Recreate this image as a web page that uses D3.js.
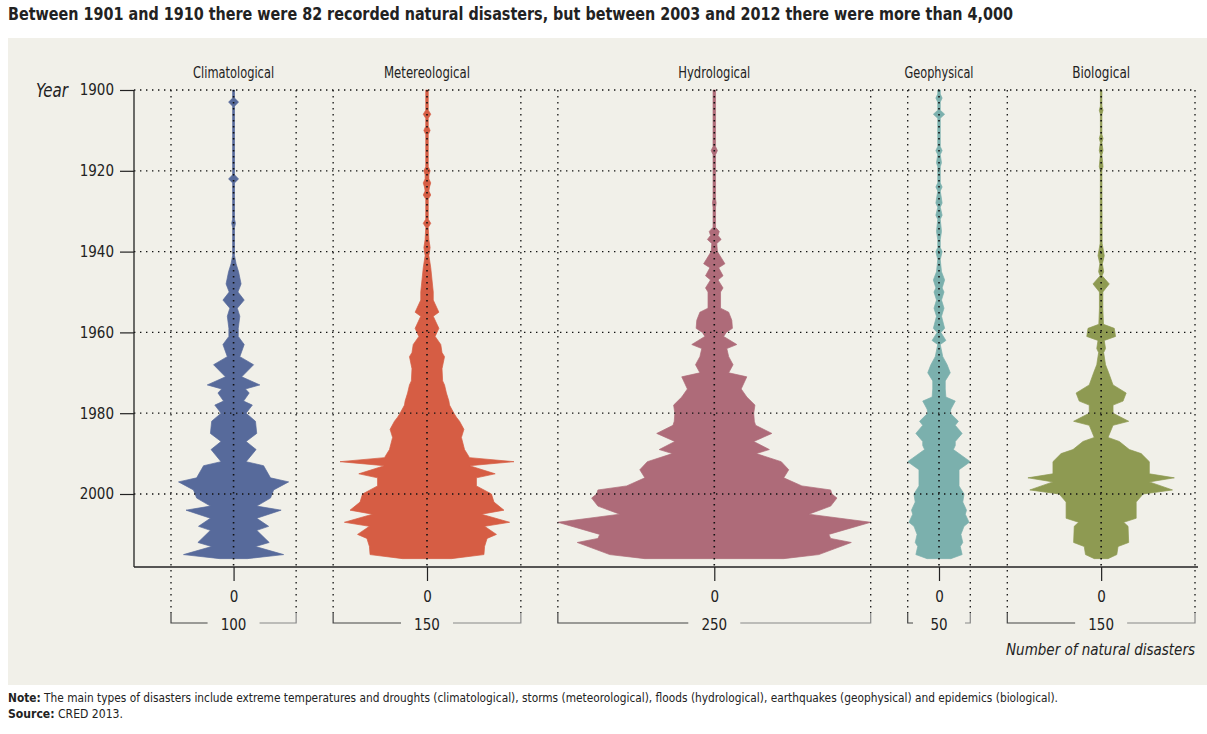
<!DOCTYPE html>
<html><head><meta charset="utf-8">
<script src="https://cdn.jsdelivr.net/npm/d3@7"></script>
<style>
body{margin:0;background:#fff;}
svg{display:block;}
text{font-family:'Liberation Sans Narrow','DejaVu Sans Condensed','Arial Narrow',sans-serif;font-stretch:condensed;fill:#222;}
</style></head><body>
<svg id="chart" width="1207" height="734"></svg>
<script>
// ---------- DATA ----------
const categories = ["Climatological","Metereological","Hydrological","Geophysical","Biological"];
const scaleSpans = [100,150,250,50,150];
const yearTicks = [1900,1920,1940,1960,1980,2000];
const colors = ["#576a9b","#d65d44","#ae6b79","#7bb0ad","#8e9a52"];

const climatological = [[1900,1.5],[1902,1.5],[1903,8],[1904,1.5],[1921,1.5],[1922,8],[1923,1.5],[1932,1.5],[1933,3],[1934,1.5],[1941,1.5],[1943,4],[1945,8],[1948,12],[1950,7],[1952,17],[1954,6],[1956,10],[1959,7.5],[1961,7.5],[1963,17],[1966,10],[1968,32],[1971,13],[1973,42],[1974,19],[1975,25],[1977,16],[1978,30],[1980,20],[1982,35],[1985,37],[1987,20],[1989,36],[1992,20],[1993,48],[1996,59],[1997,88],[1999,64],[2001,59],[2003,37],[2004,76],[2006,37],[2008,56],[2009,37],[2012,57],[2013,35],[2015,80],[2016,22]];

const meteorological = [[1900,2],[1905,2],[1906,6],[1907,2],[1909,2],[1910,5],[1911,2],[1919,2],[1920,5],[1921,3],[1922,3],[1923,6],[1924,4],[1925,3],[1926,6],[1927,2],[1932,2],[1933,6],[1934,2],[1937,3],[1939,5],[1941,3],[1944,6],[1947,8],[1950,10],[1952,10],[1955,19],[1956,10],[1959,19],[1961,13],[1963,22],[1965,24],[1966,28],[1969,24],[1972,25],[1973,28],[1975,31],[1977,35],[1978,36],[1980,43],[1981,47],[1982,52],[1984,59],[1986,55],[1989,60],[1991,68],[1992,139],[1993,68],[1995,109],[1996,79],[1998,79],[2000,103],[2002,107],[2004,123],[2005,87],[2007,132],[2008,92],[2010,111],[2011,96],[2013,92],[2015,91],[2016,39]];

const hydrological = [[1900,2],[1914,2],[1915,5],[1916,2],[1927,2],[1928,3],[1929,2],[1934,2],[1935,8],[1936,6],[1937,11],[1938,4],[1940,5],[1943,17],[1944,7],[1946,14],[1947,6],[1949,14],[1950,10],[1954,10],[1955,23],[1957,28],[1959,29],[1960,19],[1961,15],[1963,36],[1964,20],[1966,23],[1968,30],[1970,23],[1971,52],[1974,43],[1976,52],[1978,65],[1980,63],[1982,64],[1983,66],[1985,92],[1987,63],[1989,88],[1990,67],[1992,107],[1994,119],[1996,111],[1998,140],[1999,186],[2000,188],[2001,196],[2003,186],[2005,151],[2007,250],[2010,183],[2011,186],[2012,219],[2015,167],[2016,111]];

const geophysical = [[1900,2],[1901,2],[1902,5],[1903,2],[1905,2],[1906,9],[1907,2],[1914,2],[1915,5],[1916,2],[1918,4],[1919,2],[1923,2],[1924,5],[1925,2],[1928,5],[1929,2],[1931,5],[1932,2],[1935,4],[1937,2],[1939,2],[1940,5],[1942,2],[1945,4],[1947,9],[1949,5],[1950,8],[1952,4],[1954,8],[1956,4],[1959,9],[1960,3],[1962,11],[1963,2],[1966,6],[1968,13],[1970,18],[1972,10],[1974,10],[1976,11],[1977,26],[1979,19],[1980,18],[1982,31],[1983,26],[1985,37],[1987,26],[1988,26],[1989,23],[1992,50],[1994,32],[1998,32],[2000,40],[2002,38],[2004,44],[2005,42],[2007,48],[2008,40],[2010,35],[2012,38],[2013,34],[2015,37],[2016,19]];

const biological = [[1900,1.2],[1904,1.2],[1905,3],[1906,1.2],[1911,1.2],[1912,3],[1913,1.2],[1915,3],[1916,1.2],[1919,3],[1920,1.2],[1938,1.6],[1941,5],[1943,2],[1945,4],[1946,1.6],[1948,13],[1950,2.7],[1954,2.7],[1958,3.7],[1959,21],[1961,23],[1962,5],[1964,7],[1965,4],[1968,7],[1970,12],[1973,19],[1975,40],[1977,35],[1978,19],[1980,19],[1982,44],[1983,19],[1986,11],[1987,29],[1989,45],[1990,64],[1992,77],[1995,77],[1996,117],[1997,77],[1999,114],[2000,67],[2002,56],[2006,56],[2007,36],[2008,43],[2012,44],[2013,27],[2015,25],[2016,11]];

const series = [climatological, meteorological, hydrological, geophysical, biological];

// ---------- LAYOUT ----------
const svg = d3.select("#chart");
const plotLeft = 134, plotRight = 1195, plotTop = 90, plotBottom = 567, gap = 37;
const unit = (plotRight - plotLeft - gap*scaleSpans.length) / d3.sum(scaleSpans);

const y = d3.scaleLinear().domain([1900, 2000]).range([plotTop, 494]);

const panels = categories.map((c, i) => {
  const left = plotLeft + gap*(i+1) + unit*d3.sum(scaleSpans.slice(0, i));
  const right = left + unit*scaleSpans[i];
  const xs = d3.scaleLinear().domain([-scaleSpans[i]/2, scaleSpans[i]/2]).range([left, right]);
  return {name: c, span: scaleSpans[i], left, right, center: xs(0), xs, data: series[i], color: colors[i]};
});

// white page + panel background
svg.append("rect").attr("width",1207).attr("height",734).attr("fill","#fff");
svg.append("rect").attr("x",8).attr("y",38).attr("width",1199).attr("height",647).attr("fill","#f1f0e9");

// title
svg.append("text").attr("x",8).attr("y",20)
  .attr("font-size",18).attr("font-weight","bold")
  .attr("textLength",1005).attr("lengthAdjust","spacingAndGlyphs")
  .text("Between 1901 and 1910 there were 82 recorded natural disasters, but between 2003 and 2012 there were more than 4,000");

// shapes
panels.forEach(p => {
  const area = d3.area()
    .x0(d => p.xs(-d[1]/2))
    .x1(d => p.xs(d[1]/2))
    .y(d => y(d[0]))
    .curve(d3.curveLinear);
  svg.append("path").datum(p.data)
    .attr("d", area)
    .attr("fill", p.color)
    .attr("stroke", p.color)
    .attr("stroke-width", 0.7)
    .attr("stroke-linejoin","round");
});

const dot = "1.4,4.6";
// horizontal gridlines
svg.append("g").selectAll("line").data(yearTicks).join("line")
  .attr("x1", plotLeft).attr("x2", plotRight)
  .attr("y1", d => y(d)).attr("y2", d => y(d))
  .attr("stroke","#111").attr("stroke-width",1.3).attr("stroke-dasharray",dot);

// vertical dotted lines
panels.forEach(p => {
  [p.left, p.right].forEach(x => {
    svg.append("line").attr("x1",x).attr("x2",x).attr("y1",plotTop).attr("y2",613)
      .attr("stroke","#111").attr("stroke-width",1.3).attr("stroke-dasharray",dot);
  });
  svg.append("line").attr("x1",p.center).attr("x2",p.center).attr("y1",plotTop).attr("y2",plotBottom)
    .attr("stroke","#111").attr("stroke-width",1.6).attr("stroke-dasharray",dot);
});

// left axis
const yAxis = d3.axisLeft(y).tickValues(yearTicks).tickFormat(d3.format("d")).tickSize(14).tickPadding(6);
const gy = svg.append("g").attr("transform",`translate(${plotLeft},0)`).call(yAxis);
gy.select(".domain").remove();
gy.selectAll(".tick line").attr("stroke","#222").attr("stroke-width",1.2);
gy.selectAll(".tick text").attr("font-size",15).attr("fill","#333")
  .style("font-family","'Liberation Sans Narrow','DejaVu Sans Condensed',sans-serif");
svg.append("line").attr("x1",plotLeft).attr("x2",plotLeft).attr("y1",plotTop).attr("y2",plotBottom)
  .attr("stroke","#222").attr("stroke-width",1.3);
svg.append("line").attr("x1",plotLeft).attr("x2",plotRight+3).attr("y1",plotBottom).attr("y2",plotBottom)
  .attr("stroke","#222").attr("stroke-width",1.3);

svg.append("text").attr("x",36).attr("y",97).attr("font-size",19).attr("font-style","italic")
  .attr("fill","#333").attr("textLength",32).attr("lengthAdjust","spacingAndGlyphs").text("Year");

// headers
const headerW = [81,86,72,69,58];
panels.forEach((p,i) => {
  svg.append("text").attr("x",p.center - headerW[i]/2).attr("y",78)
    .attr("font-size",15).attr("fill","#333")
    .attr("textLength",headerW[i]).attr("lengthAdjust","spacingAndGlyphs")
    .text(p.name);
});

// bottom per-panel axes and brackets
panels.forEach(p => {
  const ax = d3.axisBottom(p.xs).tickValues([0]).tickSize(14).tickPadding(10).tickFormat(d3.format("d"));
  const g = svg.append("g").attr("transform",`translate(0,${plotBottom})`).call(ax);
  g.select(".domain").remove();
  g.selectAll(".tick line").attr("stroke","#222").attr("stroke-width",1.2);
  g.selectAll(".tick text").attr("font-size",15).attr("fill","#333")
    .style("font-family","'Liberation Sans Narrow','DejaVu Sans Condensed',sans-serif");
  const by = 623, half = 26;
  svg.append("path").attr("d",`M${p.left},613V${by}H${p.center-half}`)
    .attr("fill","none").attr("stroke","#444").attr("stroke-width",1.2);
  svg.append("path").attr("d",`M${p.center+half},${by}H${p.right}V613`)
    .attr("fill","none").attr("stroke","#888").attr("stroke-width",1.2);
  svg.append("text").attr("x",p.center).attr("y",630).attr("text-anchor","middle")
    .attr("font-size",15).attr("fill","#333").text(p.span);
});

// x-axis caption (horizontally condensed via transform so its box stays inside the frame)
const cap = svg.append("text").attr("font-size",16).attr("font-style","italic").attr("fill","#333")
  .attr("text-anchor","end")
  .text("Number of natural disasters");
const capW = cap.node().getComputedTextLength();
cap.attr("transform",`translate(1195,655) scale(${Math.min(1, 189/capW)},1)`);

// notes
const note = svg.append("text").attr("x",8).attr("y",702).attr("font-size",12.5)
  .attr("textLength",1050).attr("lengthAdjust","spacingAndGlyphs");
note.append("tspan").attr("font-weight","bold").text("Note:");
note.append("tspan").text(" The main types of disasters include extreme temperatures and droughts (climatological), storms (meteorological), floods (hydrological), earthquakes (geophysical) and epidemics (biological).");
const src = svg.append("text").attr("x",8).attr("y",718).attr("font-size",12.5)
  .attr("textLength",115).attr("lengthAdjust","spacingAndGlyphs");
src.append("tspan").attr("font-weight","bold").text("Source:");
src.append("tspan").text(" CRED 2013.");
</script>
</body></html>
